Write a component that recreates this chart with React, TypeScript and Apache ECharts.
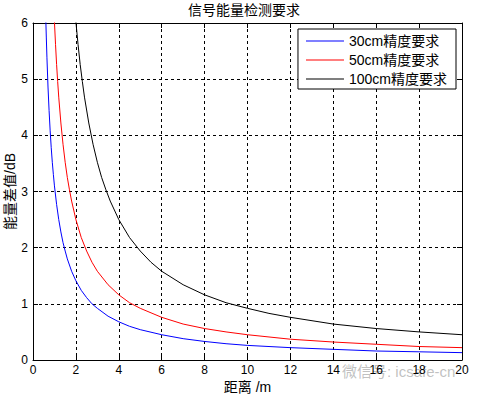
import React, { useEffect, useRef } from "react";
import * as echarts from "echarts";

const titleText = "信号能量检测要求";
const xAxisName = "距离 /m";
const yAxisName = "能量差值/dB";
const seriesNames = ["30cm精度要求", "50cm精度要求", "100cm精度要求"];
const seriesColors = ["#0000ff", "#ff0000", "#000000"];

// 30cm curve (distance, dB)
const x30 = [0.6, 0.62, 0.65, 0.7, 0.75, 0.8, 0.85, 0.9, 0.95, 1.0, 1.1, 1.2, 1.3, 1.4, 1.5, 1.6, 1.8, 2.0, 2.25, 2.5, 2.75, 3, 3.5, 4, 4.5, 5, 6, 7, 8, 9, 10, 12, 14, 16, 18, 20];
const y30 = [6.02, 5.75, 5.38, 4.86, 4.44, 4.08, 3.78, 3.52, 3.30, 3.10, 2.77, 2.50, 2.28, 2.09, 1.94, 1.80, 1.58, 1.41, 1.24, 1.11, 1.00, 0.92, 0.78, 0.68, 0.60, 0.54, 0.45, 0.38, 0.33, 0.29, 0.26, 0.22, 0.19, 0.16, 0.146, 0.131];

// 50cm curve
const x50 = [1.0, 1.05, 1.1, 1.15, 1.2, 1.3, 1.4, 1.5, 1.6, 1.7, 1.8, 2.0, 2.25, 2.5, 2.75, 3, 3.5, 4, 4.5, 5, 6, 7, 8, 9, 10, 12, 14, 16, 18, 20];
const y50 = [6.02, 5.62, 5.26, 4.96, 4.68, 4.22, 3.84, 3.52, 3.25, 3.03, 2.83, 2.50, 2.18, 1.94, 1.74, 1.58, 1.34, 1.16, 1.02, 0.92, 0.76, 0.64, 0.56, 0.50, 0.45, 0.37, 0.32, 0.28, 0.24, 0.22];

// 100cm curve
const x100 = [2.0, 2.1, 2.2, 2.3, 2.4, 2.6, 2.8, 3.0, 3.2, 3.4, 3.6, 4.0, 4.5, 5, 5.5, 6, 7, 8, 9, 10, 11, 12, 14, 16, 18, 20];
const y100 = [6.02, 5.62, 5.26, 4.96, 4.68, 4.22, 3.84, 3.52, 3.25, 3.03, 2.83, 2.50, 2.18, 1.94, 1.74, 1.58, 1.34, 1.16, 1.02, 0.92, 0.83, 0.76, 0.64, 0.56, 0.50, 0.45];

const watermark = "微信号: icsafe-cn";

const FONT = "'Liberation Sans', Arial, 'Noto Sans CJK SC', sans-serif";

function pairs(xs: number[], ys: number[]) {
  return xs.map((x, i) => [x, ys[i]]);
}

export default function App() {
  const ref = useRef<HTMLDivElement>(null);
  useEffect(() => {
    document.body.style.margin = "0";
    const chart = echarts.init(ref.current!, null, { renderer: "svg" });
    const gridLine = { show: true, lineStyle: { color: "#000", type: [3, 3], width: 1 } };
    const axisLine = { show: true, onZero: false, lineStyle: { color: "#000", width: 1 } };
    const tick = { show: true, inside: true, length: 5, lineStyle: { color: "#000" } };
    const label = { color: "#000", fontSize: 12, fontFamily: FONT };
    const xs = [x30, x50, x100];
    const ys = [y30, y50, y100];
    chart.setOption({
      animation: false,
      backgroundColor: "#fff",
      title: {
        text: titleText,
        left: 244,
        textAlign: "center",
        top: 3,
        padding: 0,
        textStyle: { fontSize: 14, fontWeight: "normal", color: "#000", fontFamily: FONT },
      },
      grid: { left: 33, right: 15, top: 23, bottom: 36, show: false, outerBoundsMode: "none", containLabel: false },
      legend: {
        orient: "vertical",
        right: 21,
        top: 29,
        padding: [5, 9, 3, 8],
        itemGap: 5,
        itemWidth: 38,
        itemHeight: 1,
        icon: "rect",
        borderColor: "#000",
        borderWidth: 1,
        backgroundColor: "#fff",
        textStyle: { fontSize: 14, lineHeight: 14, color: "#000", fontFamily: FONT },
        data: seriesNames,
      },
      xAxis: [
        {
          type: "value", min: 0, max: 20, interval: 2, position: "bottom",
          axisLine, axisTick: tick, splitLine: gridLine,
          axisLabel: { ...label, margin: 4 },
          name: xAxisName, nameLocation: "middle", nameGap: 20, nameMoveOverlap: false,
          nameTextStyle: { fontSize: 14, color: "#000", fontFamily: FONT, verticalAlign: "top" },
        },
        {
          type: "value", min: 0, max: 20, interval: 2, position: "top",
          axisLine, axisTick: tick, splitLine: { show: false }, axisLabel: { show: false },
        },
      ],
      yAxis: [
        {
          type: "value", min: 0, max: 6, interval: 1, position: "left",
          axisLine, axisTick: tick, splitLine: gridLine,
          axisLabel: { ...label, margin: 5 },
          name: yAxisName, nameLocation: "middle", nameGap: 16, nameRotate: 90, nameMoveOverlap: false,
          nameTextStyle: { fontSize: 14, color: "#000", fontFamily: FONT },
        },
        {
          type: "value", min: 0, max: 6, interval: 1, position: "right",
          axisLine, axisTick: tick, splitLine: { show: false }, axisLabel: { show: false },
        },
      ],
      series: seriesNames.map((name, i) => ({
        name,
        type: "line",
        xAxisIndex: 0,
        yAxisIndex: 0,
        showSymbol: false,
        symbol: "none",
        smooth: false,
        clip: true,
        color: seriesColors[i],
        lineStyle: { color: seriesColors[i], width: 1 },
        data: pairs(xs[i], ys[i]),
      })),
      graphic: [
        {
          type: "text",
          left: 342,
          top: 364,
          style: {
            text: watermark,
            fontSize: 15,
            fontFamily: FONT,
            fill: "rgba(140,140,140,0.55)",
          },
        },
      ],
    });
    return () => chart.dispose();
  }, []);
  return <div ref={ref} style={{ width: 477, height: 396, position: "absolute", left: 0, top: 0 }} />;
}
